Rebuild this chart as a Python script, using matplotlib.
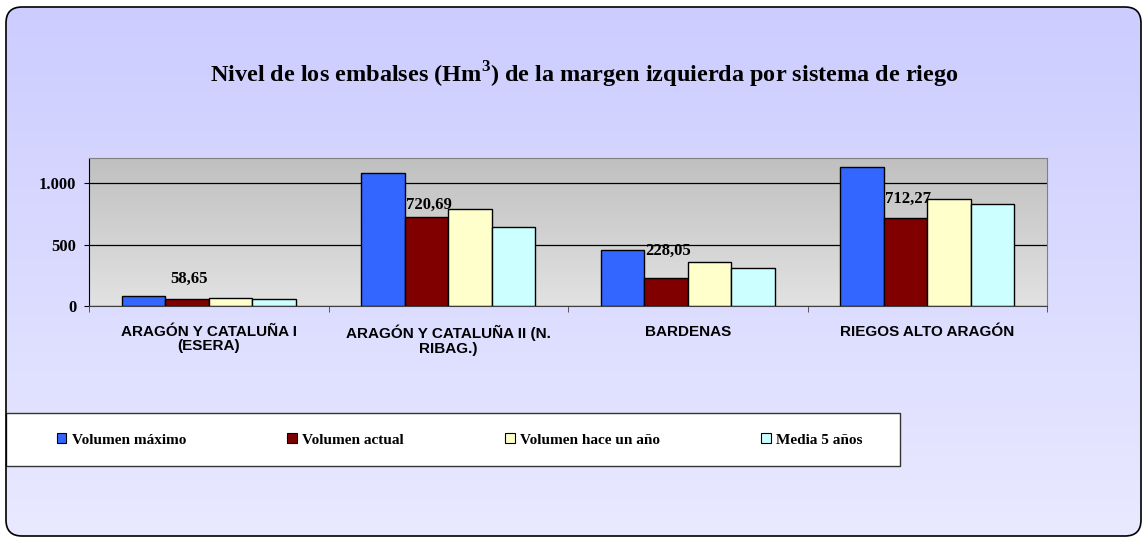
import matplotlib.pyplot as plt
import numpy as np
from matplotlib.patches import FancyBboxPatch, Patch, Rectangle
from matplotlib.colors import LinearSegmentedColormap
from matplotlib.ticker import FuncFormatter

sistemas = ['ARAGÓN Y CATALUÑA I\n(ESERA)', 'ARAGÓN Y CATALUÑA II (N.\nRIBAG.)',
            'BARDENAS', 'RIEGOS ALTO ARAGÓN']
vol_maximo = [84, 1080, 457, 1129]
vol_actual = [58.65, 720.69, 228.05, 712.27]
vol_hace_anio = [63, 787, 355, 869]
media_5 = [60, 645, 306, 828]
series = ['Volumen máximo', 'Volumen actual', 'Volumen hace un año', 'Media 5 años']
colores = ['#3366FF', '#800000', '#FFFFCC', '#CCFFFF']

plt.rcParams['mathtext.fontset'] = 'custom'
plt.rcParams['mathtext.rm'] = 'Liberation Serif:bold'
plt.rcParams['mathtext.bf'] = 'Liberation Serif:bold'

serif = {'family': 'Liberation Serif', 'weight': 'bold'}
sans = {'family': 'Liberation Sans', 'weight': 'bold'}

W, H = 1144, 538
fig = plt.figure(figsize=(W / 100, H / 100), dpi=100)
fig.patch.set_facecolor('white')

# fondo con esquinas redondeadas y degradado
bg = fig.add_axes([0, 0, 1, 1], zorder=-10)
bg.set_xlim(0, W)
bg.set_ylim(H, 0)
bg.axis('off')
caja = FancyBboxPatch((6, 7), 1135, 529, boxstyle='round,pad=0,rounding_size=16',
                      facecolor='none', edgecolor='black', lw=1.2, zorder=3)
bg.add_patch(caja)
cmap_bg = LinearSegmentedColormap.from_list('bg', ['#CCCCFF', '#E9E9FF'])
img = bg.imshow(np.linspace(0, 1, 256).reshape(-1, 1), cmap=cmap_bg, aspect='auto',
                extent=(0, W, H, 0), origin='upper', zorder=0)
img.set_clip_path(caja)
# caja blanca de la leyenda
bg.add_patch(Rectangle((6, 413), 894, 53, facecolor='white', edgecolor='#333333',
                       lw=1, zorder=2))

# area de trazado
ax = fig.add_axes([89 / W, 1 - 306 / H, (1047 - 89) / W, (306 - 158.5) / H])
cmap_ax = LinearSegmentedColormap.from_list('ax', ['#C0C0C0', '#E2E2E2'])
ax.imshow(np.linspace(0, 1, 256).reshape(-1, 1), cmap=cmap_ax, aspect='auto',
          extent=(-0.5, 3.5, 0, 1200), origin='upper', zorder=0)

x = np.arange(len(sistemas))
w = 0.182
datos = [vol_maximo, vol_actual, vol_hace_anio, media_5]
for i, (vals, col) in enumerate(zip(datos, colores)):
    ax.bar(x + (i - 1.5) * w, vals, w, color=col, edgecolor='black', lw=1, zorder=2)

# etiquetas del volumen actual (desplazamiento vertical en puntos)
label_dy = [11.5, 6.5, 16.5, 11]
for xi, v, dy in zip(x, vol_actual, label_dy):
    ax.annotate(f'{v:.2f}'.replace('.', ','), xy=(xi - 0.5 * w, v), xytext=(1.5, dy),
                textcoords='offset points', ha='center', va='baseline', fontsize=12,
                zorder=3, **serif)

ax.set_xlim(-0.5, 3.5)
ax.set_ylim(0, 1200)
ax.set_yticks([0, 500, 1000])
ax.yaxis.set_major_formatter(FuncFormatter(lambda v, p: f'{int(v):,}'.replace(',', '.')))
ax.yaxis.grid(True, color='black', lw=0.9)
ax.set_axisbelow(True)
ax.set_xticks(x)
ax.set_xticklabels(sistemas, fontsize=11, ha='center', linespacing=1.05, **sans)
ax.set_xticks(np.arange(-0.5, 4, 1), minor=True)
ax.tick_params(axis='x', which='major', length=0, pad=13.5)
ax.tick_params(axis='x', which='minor', length=4, direction='out', color='#404040')
ax.tick_params(axis='y', length=3.6, color='black', pad=5.5)
for lab in ax.get_yticklabels():
    lab.set_fontfamily('Liberation Serif')
    lab.set_fontweight('bold')
    lab.set_fontsize(12)
ax.spines['left'].set_color('black')
ax.spines['bottom'].set_color('#404040')
ax.spines['top'].set_color('#808080')
ax.spines['right'].set_color('#808080')

fig.text(584 / W, 1 - 75 / H,
         r'Nivel de los embalses (Hm$^{\mathrm{3}}$) de la margen izquierda por sistema de riego',
         ha='center', va='center', fontsize=17.5, **serif)

handles = [Patch(facecolor=c, edgecolor='black', lw=0.8) for c in colores]
leg = fig.legend(handles, series, ncol=4, loc='center left',
                 bbox_to_anchor=(57 / W, 1 - 440 / H), frameon=False,
                 borderpad=0, borderaxespad=0, columnspacing=6.65,
                 handlelength=0.6, handleheight=0.6, handletextpad=0.35,
                 prop={'family': 'Liberation Serif', 'weight': 'bold', 'size': 11})

fig.savefig('out.png', dpi=100)
